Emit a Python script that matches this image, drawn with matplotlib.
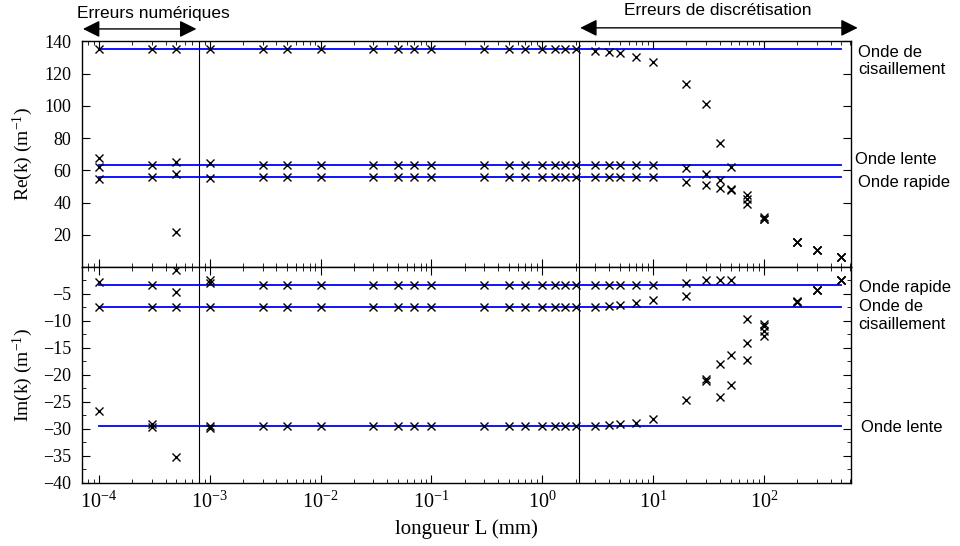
import matplotlib
matplotlib.use('Agg')
import matplotlib.pyplot as plt
from matplotlib.ticker import FixedLocator, LogLocator, MultipleLocator, NullFormatter

plt.rcParams['font.family'] = 'Liberation Serif'
plt.rcParams['mathtext.fontset'] = 'custom'
plt.rcParams['mathtext.rm'] = 'Liberation Serif'
plt.rcParams['mathtext.it'] = 'Liberation Serif:italic'
SANS = 'Liberation Sans'

# longueurs L (mm)
L = [1e-4, 3e-4, 5e-4, 1e-3, 3e-3, 5e-3, 1e-2, 3e-2, 5e-2, 7e-2, 0.1, 0.3, 0.5, 0.7,
     1, 1.3, 1.6, 2, 3, 4, 5, 7, 10, 20, 30, 40, 50, 70, 100, 200, 300, 500]

# Re(k) pour chaque onde
re_cis = [135.3, 135.3, 135.3, 135.3, 135.3, 135.3, 135.3, 135.3, 135.3, 135.3, 135.3,
          135.3, 135.3, 135.3, 135.3, 135.3, 135.3, 135.3, 134.3, 133.3, 132.5, 130.6,
          126.9, 113.4, 101.2, 77.1, 62.0, 44.9, 30.8, 15.5, 10.5, 6.4]
re_lente = [62.1, 63.6, 65.2, 64.5, 63.6, 63.6, 63.6, 63.6, 63.6, 63.6, 63.6, 63.6,
            63.6, 63.6, 63.6, 63.6, 63.6, 63.6, 63.6, 63.6, 63.6, 63.4, 63.3, 61.2,
            57.9, 54.0, 48.6, 42.3, 29.5, 15.5, 10.5, 6.4]
re_rapide = [54.5, 55.8, 57.9, 55.5, 55.8, 55.8, 55.8, 55.8, 55.8, 55.8, 55.8, 55.8,
             55.8, 55.8, 55.8, 55.8, 55.8, 55.8, 55.8, 55.8, 55.8, 55.8, 55.8, 53.0,
             51.0, 48.8, 48.0, 39.4, 29.5, 15.5, 10.5, 6.4]
re_extra_L = [1e-4, 5e-4]
re_extra = [67.7, 21.8]

# Im(k) pour chaque onde
im_rapide = [-2.7, -3.4, -4.6, -2.5, -3.4, -3.4, -3.4, -3.4, -3.4, -3.4, -3.4, -3.4,
             -3.4, -3.4, -3.4, -3.4, -3.4, -3.4, -3.4, -3.4, -3.4, -3.3, -3.3, -2.9,
             -2.5, -2.4, -2.5, -9.6, -10.5, -6.3, -4.3, -2.5]
im_cis = [-7.4, -7.4, -7.4, -7.4, -7.4, -7.4, -7.4, -7.4, -7.4, -7.4, -7.4, -7.4,
          -7.4, -7.4, -7.4, -7.4, -7.4, -7.4, -7.4, -7.2, -7.0, -6.7, -6.2, -5.3,
          -20.8, -18.0, -16.3, -14.1, -10.9, -6.4, -4.3, -2.5]
im_lente = [-26.6, -29.1, -35.1, -29.4, -29.4, -29.4, -29.4, -29.4, -29.4, -29.4,
            -29.4, -29.4, -29.4, -29.4, -29.4, -29.4, -29.4, -29.4, -29.4, -29.2,
            -29.0, -28.8, -28.1, -24.6, -21.1, -24.0, -21.8, -17.2, -12.7, -6.4,
            -4.3, -2.5]
im_extra_L = [5e-4, 1e-3, 3e-4, 1e-3, 100]
im_extra = [-0.6, -3.0, -29.6, -29.8, -11.9]

# valeurs analytiques (lignes bleues)
line_L = [1e-4, 500]
re_ref = [135.3, 63.6, 55.8]
im_ref = [-3.4, -7.4, -29.4]

limits = [8.0e-4, 2.16]
decades = [1e-4, 1e-3, 1e-2, 1e-1, 1, 10, 100]

fig = plt.figure(figsize=(9.6, 5.46), dpi=100)
ax1 = fig.add_axes([0.085, 0.511, 0.8015, 0.4132])
ax2 = fig.add_axes([0.085, 0.1154, 0.8015, 0.3956])

mk = dict(ls='none', marker='x', color='k', ms=6, mew=1.0, zorder=3)

for v in re_ref:
    ax1.plot(line_L, [v, v], color='#0000ff', lw=1.3, zorder=2)
for s in (re_cis, re_lente, re_rapide):
    ax1.plot(L, s, **mk)
ax1.plot(re_extra_L, re_extra, **mk)

for v in im_ref:
    ax2.plot(line_L, [v, v], color='#0000ff', lw=1.3, zorder=2)
for s in (im_rapide, im_cis, im_lente):
    ax2.plot(L, s, **mk)
ax2.plot(im_extra_L, im_extra, **mk)

for ax in (ax1, ax2):
    ax.set_xscale('log')
    ax.set_xlim(7e-5, 610)
    for x in limits:
        ax.axvline(x, color='k', lw=0.8, zorder=1)
    ax.xaxis.set_major_locator(FixedLocator(decades))
    ax.xaxis.set_minor_locator(LogLocator(base=10, subs=range(2, 10), numticks=20))
    ax.xaxis.set_minor_formatter(NullFormatter())
    ax.tick_params(which='both', direction='in', top=True, right=True)
    ax.tick_params(axis='y', labelsize=13, pad=7.5)
    ax.tick_params(axis='x', labelsize=14.5, pad=6)
    ax.tick_params(which='major', length=6)
    ax.tick_params(which='minor', length=3)
    for sp in ax.spines.values():
        sp.set_linewidth(1.0)

ax1.set_ylim(0, 140)
ax1.set_yticks([20, 40, 60, 80, 100, 120, 140])
ax1.tick_params(labelbottom=False)
ax1.set_ylabel('Re(k) (m$^{-1}$)', fontsize=14)

ax2.set_ylim(-40, 0)
ax2.set_yticks([-40, -35, -30, -25, -20, -15, -10, -5])
ax2.yaxis.set_minor_locator(MultipleLocator(2.5))
ax2.set_ylabel('Im(k) (m$^{-1}$)', fontsize=14)
ax2.set_xlabel('longueur L (mm)', fontsize=15, labelpad=5)
ax1.yaxis.set_label_coords(-0.06, 0.5)
ax2.yaxis.set_label_coords(-0.06, 0.5)

# noms des ondes a droite
tr1 = ax1.get_yaxis_transform()
ax1.text(1.009, 128, 'Onde de\ncisaillement', transform=tr1, family=SANS, fontsize=12, va='center')
ax1.text(1.005, 66.9, 'Onde lente', transform=tr1, family=SANS, fontsize=12, va='center')
ax1.text(1.009, 52.2, 'Onde rapide', transform=tr1, family=SANS, fontsize=12, va='center')
tr2 = ax2.get_yaxis_transform()
ax2.text(1.010, -3.8, 'Onde rapide', transform=tr2, family=SANS, fontsize=12, va='center')
ax2.text(1.010, -9.0, 'Onde de\ncisaillement', transform=tr2, family=SANS, fontsize=12, va='center')
ax2.text(1.013, -29.8, 'Onde lente', transform=tr2, family=SANS, fontsize=12, va='center')

# zones d'erreurs
arr = dict(arrowstyle='<|-|>,head_length=0.6,head_width=0.3', color='k', lw=1.0,
           mutation_scale=17, shrinkA=0, shrinkB=0)
ax1.annotate('', xy=(7.2e-5, 0.947), xytext=(7.6e-4, 0.947),
             xycoords=('data', 'figure fraction'), textcoords=('data', 'figure fraction'),
             arrowprops=arr, annotation_clip=False)
ax1.annotate('', xy=(2.2, 0.949), xytext=(700, 0.949),
             xycoords=('data', 'figure fraction'), textcoords=('data', 'figure fraction'),
             arrowprops=arr, annotation_clip=False)
ax1.annotate('Erreurs numériques', xy=(3.1e-4, 0.976), xycoords=('data', 'figure fraction'),
             ha='center', va='center', family=SANS, fontsize=12.5, annotation_clip=False)
ax1.annotate('Erreurs de discrétisation', xy=(38, 0.98), xycoords=('data', 'figure fraction'),
             ha='center', va='center', family=SANS, fontsize=12.5, annotation_clip=False)

fig.savefig('out.png', dpi=100)
